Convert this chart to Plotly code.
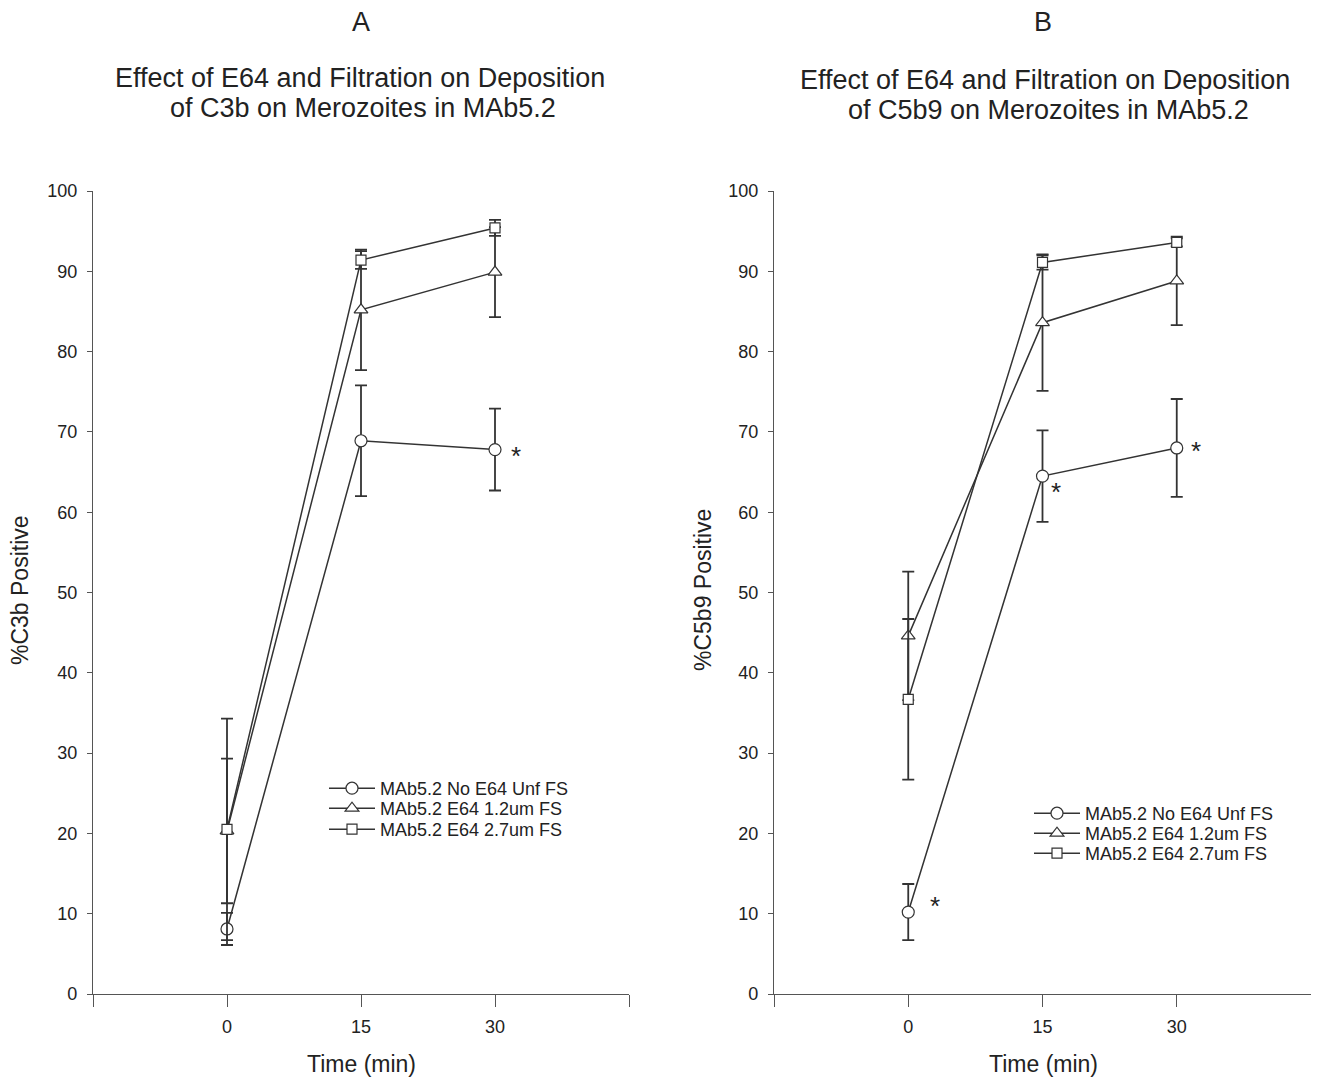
import plotly.graph_objects as go

# ---- data ----
time_pts = [0, 15, 30]
series_names = ["MAb5.2 No E64 Unf FS", "MAb5.2 E64 1.2um FS", "MAb5.2 E64 2.7um FS"]
symbols = ["circle", "triangle-up", "square"]

# Panel A: %C3b positive
c3b_no_e64 = [8.1, 68.9, 67.8]
c3b_no_e64_err = [2.0, 6.9, 5.1]
c3b_e64_12 = [20.3, 85.2, 89.9]
c3b_e64_12_err = [9.0, 7.5, 5.6]
c3b_e64_27 = [20.5, 91.4, 95.4]
c3b_e64_27_err = [13.8, 1.1, 1.0]

# Panel B: %C5b9 positive
c5b9_no_e64 = [10.2, 64.5, 68.0]
c5b9_no_e64_err = [3.5, 5.7, 6.1]
c5b9_e64_12 = [44.6, 83.6, 88.8]
c5b9_e64_12_err = [8.0, 8.5, 5.5]
c5b9_e64_27 = [36.7, 91.1, 93.6]
c5b9_e64_27_err = [10.0, 0.9, 0.5]

# significance markers (x, y) per panel
stars_a = [(32.4, 67.2)]
stars_b = [(3.0, 11.1), (16.5, 62.6), (32.2, 67.8)]

x_tickvals = [-15, 0, 15, 30, 45]
x_ticktext = ["", "0", "15", "30", ""]
y_tickvals = [0, 10, 20, 30, 40, 50, 60, 70, 80, 90, 100]

COL = "#333333"
AXC = "#555555"
TXT = "#222222"
FONT = "Liberation Sans, Arial, sans-serif"
OFF = 8  # page body margin
W, H = 1319 - OFF, 1078 - OFF

def px_x(p):
    return (p - OFF) / W

def px_y(p):
    return 1 - (p - OFF) / H

fig = go.Figure()

panels = [
    ("x", "y", ["legend", "legend2", "legend3"],
     [c3b_no_e64, c3b_e64_12, c3b_e64_27],
     [c3b_no_e64_err, c3b_e64_12_err, c3b_e64_27_err]),
    ("x2", "y2", ["legend4", "legend5", "legend6"],
     [c5b9_no_e64, c5b9_e64_12, c5b9_e64_27],
     [c5b9_no_e64_err, c5b9_e64_12_err, c5b9_e64_27_err]),
]
sizes = [12, 12, 10]
for xa, ya, lgs, vals, errs in panels:
    for name, sym, sz, lg, v, e in zip(series_names, symbols, sizes, lgs, vals, errs):
        fig.add_trace(go.Scatter(
            x=time_pts, y=v, name=name, xaxis=xa, yaxis=ya, legend=lg,
            mode="lines+markers",
            line=dict(color=COL, width=1.5),
            marker=dict(symbol=sym, size=sz, color="white",
                        line=dict(color=COL, width=1.2)),
            error_y=dict(type="data", array=e, visible=True, color=COL,
                         thickness=1.8, width=6),
        ))

ax_common = dict(
    showline=True, linecolor=AXC, linewidth=1.3, ticks="outside",
    tickcolor=AXC, tickwidth=1.3, showgrid=False, zeroline=False, automargin=False,
    tickfont=dict(family=FONT, size=18, color=TXT),
)
xd1 = [px_x(93), px_x(629)]
xd2 = [px_x(774), px_x(1311)]
yd = [px_y(994), px_y(191)]

layout_axes = {}
for i, xd in ((1, xd1), (2, xd2)):
    sfx = "" if i == 1 else str(i)
    layout_axes["xaxis" + sfx] = dict(domain=xd, range=[-15, 45], tickvals=x_tickvals,
                                      ticktext=x_ticktext, anchor="y" + sfx, ticklen=12,
                                      ticklabelstandoff=4, **ax_common)
    layout_axes["yaxis" + sfx] = dict(domain=yd, range=[0, 100], tickvals=y_tickvals,
                                      anchor="x" + sfx, ticklen=5, ticklabelstandoff=6,
                                      **ax_common)

leg_style = dict(xanchor="left", yanchor="top", font=dict(size=18, color=TXT),
                 bgcolor="rgba(0,0,0,0)", itemwidth=46, borderwidth=0)
legends = {}
left_rows = [788, 808, 829]
right_rows = [813, 833, 853]
for k, yc in enumerate(left_rows):
    key = "legend" if k == 0 else "legend" + str(k + 1)
    legends[key] = dict(x=px_x(324), y=px_y(yc - 18), **leg_style)
for k, yc in enumerate(right_rows):
    legends["legend" + str(k + 4)] = dict(x=px_x(1029), y=px_y(yc - 18), **leg_style)

fig.update_layout(
    width=W, height=H,
    margin=dict(l=0, r=0, t=0, b=0),
    paper_bgcolor="white", plot_bgcolor="white",
    font=dict(family=FONT, color=TXT),
    showlegend=True,
    **layout_axes, **legends,
)

ann = []
for xs, ys in stars_a:
    ann.append(dict(x=xs, y=ys, xref="x", yref="y", text="*", showarrow=False,
                    yshift=-2, font=dict(size=26, color=TXT)))
for xs, ys in stars_b:
    ann.append(dict(x=xs, y=ys, xref="x2", yref="y2", text="*", showarrow=False,
                    yshift=-1, font=dict(size=26, color=TXT)))

def txt(text, x, y, size, angle=0):
    return dict(x=px_x(x), y=px_y(y), xref="paper", yref="paper", text=text,
                showarrow=False, xanchor="center", yanchor="middle", textangle=angle,
                font=dict(size=size, color=TXT, family=FONT))

ann += [
    txt("A", 361, 22, 27),
    txt("B", 1043, 22, 27),
    txt("Effect of E64 and Filtration on Deposition", 360, 78, 27),
    txt("of C3b on Merozoites in MAb5.2", 363, 108, 27),
    txt("Effect of E64 and Filtration on Deposition", 1045, 80, 27),
    txt("of C5b9 on Merozoites in MAb5.2", 1048, 110, 27),
    txt("Time (min)", 361, 1064, 23),
    txt("Time (min)", 1043, 1064, 23),
    txt("%C3b Positive", 20, 590, 23, -90),
    txt("%C5b9 Positive", 703, 590, 23, -90),
]
fig.update_layout(annotations=ann)

fig.write_html("out.html")
